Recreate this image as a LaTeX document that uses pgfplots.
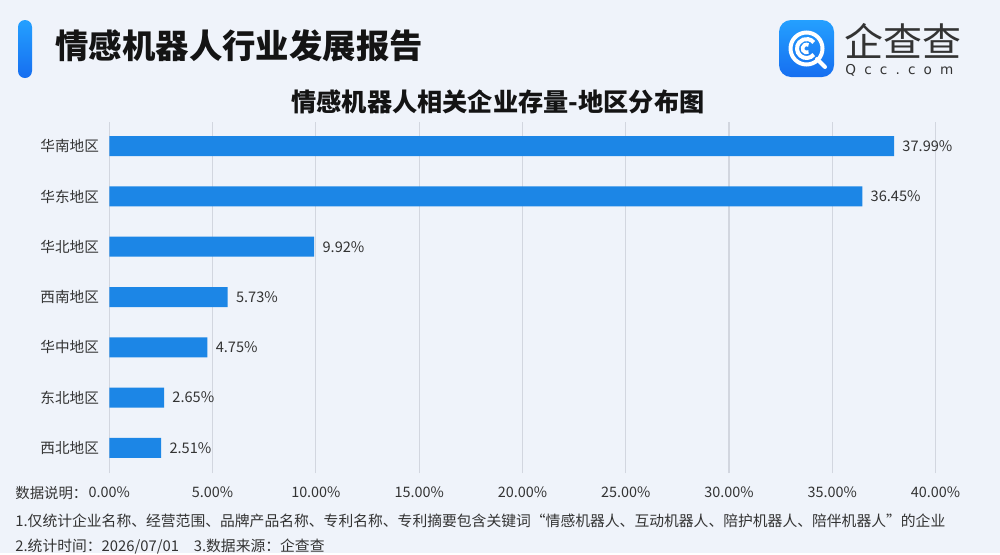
\documentclass[border=0pt]{standalone}
\usepackage{pgfplots}
\pgfplotsset{compat=1.18}
\usepackage{fontspec}
\setmainfont{Noto Sans CJK SC}
\newfontfamily\logolatin[LetterSpace=60]{DejaVu Sans}

\definecolor{barblue}{RGB}{28,134,230}
\definecolor{bgc}{RGB}{239,243,250}
\definecolor{gridc}{RGB}{210,214,223}
\definecolor{txt}{RGB}{51,51,51}
\definecolor{titletxt}{RGB}{20,20,20}
\definecolor{accenttop}{RGB}{36,160,255}
\definecolor{accentbot}{RGB}{22,110,240}

\begin{document}
\begin{tikzpicture}
% page decoration, in pixel-like units (1 unit = 0.5pt, y downwards)
\begin{scope}[x=0.5pt,y=-0.5pt]
  \fill[bgc] (0,0) rectangle (1000,553);
  % title accent bar
  \shade[top color=accenttop, bottom color=accentbot, rounded corners=3.5pt] (18,20) rectangle (32,78);
  \node[anchor=west, inner sep=0, text=titletxt, font=\fontsize{16.7}{18}\selectfont\bfseries] at (55,46) {情感机器人行业发展报告};
  \node[inner sep=0, text=titletxt, font=\fontsize{12.6}{14}\selectfont\bfseries] at (498,102) {情感机器人相关企业存量-地区分布图};
  % logo
  \shade[top color=accenttop, bottom color=accentbot, rounded corners=6pt] (779,20) rectangle (834,77);
  \draw[white, line width=2pt] (806.5,48.5) circle[radius=16];
  \draw[white, line width=2pt, line cap=round] (817,59) -- (825,67);
  \draw[white, line width=2pt] (806.5,48.5) ++(40:9.5) arc[start angle=40, end angle=320, radius=9.5];
  \draw[white, line width=1.8pt] (806.5,48.5) ++(60:4) arc[start angle=60, end angle=300, radius=4];
  \node[inner sep=0, text=txt, font=\fontsize{19.5}{20}\selectfont] at (903,41) {企查查};
  \node[anchor=west, inner sep=0, text=txt, font=\logolatin\fontsize{6.8}{7}\selectfont] at (845,70) {Qcc.com};
  % notes
  \node[anchor=west, inner sep=0, text=txt, font=\fontsize{7.2}{8}\selectfont] at (15,493) {数据说明：};
  \node[anchor=west, inner sep=0, text=txt, font=\fontsize{7.4}{8}\selectfont] at (15,521) {1.仅统计企业名称、经营范围、品牌产品名称、专利名称、专利摘要包含关键词“情感机器人、互动机器人、陪护机器人、陪伴机器人”的企业};
  \node[anchor=west, inner sep=0, text=txt, font=\fontsize{7.4}{8}\selectfont] at (15,547) {2.统计时间：2026/07/01\quad 3.数据来源：企查查};
\end{scope}

\begin{axis}[
  at={(54.65pt,-236.5pt)}, anchor=south west,
  scale only axis, width=413.15pt, height=175.5pt,
  xmin=0, xmax=40, ymin=-0.5, ymax=6.48,
  xbar, bar width=10pt,
  axis line style={draw=none},
  major tick length=0,
  xmajorgrids, grid style={gridc, line width=0.6pt},
  xtick={0,5,...,40},
  xticklabel={\pgfmathprintnumber[fixed,precision=2,zerofill,assume math mode=true]{\tick}\%},
  xticklabel style={inner sep=0, anchor=north, yshift=-6.5pt, text=txt, font=\fontsize{7.2}{8}\selectfont},
  ytick={0,...,6},
  yticklabels={西北地区,东北地区,华中地区,西南地区,华北地区,华东地区,华南地区},
  yticklabel style={inner sep=0, anchor=east, xshift=-5pt, text=txt, font=\fontsize{7.3}{8}\selectfont},
  point meta=x,
  nodes near coords={\pgfmathprintnumber[fixed,precision=2,zerofill,assume math mode=true]{\pgfplotspointmeta}\%},
  nodes near coords style={inner sep=0, anchor=west, xshift=4pt, text=txt, font=\fontsize{7.3}{8}\selectfont},
]
\addplot[fill=barblue, draw=none] coordinates {
  (2.51,0) (2.65,1) (4.75,2) (5.73,3) (9.92,4) (36.45,5) (37.99,6)
};
\end{axis}
\end{tikzpicture}
\end{document}
